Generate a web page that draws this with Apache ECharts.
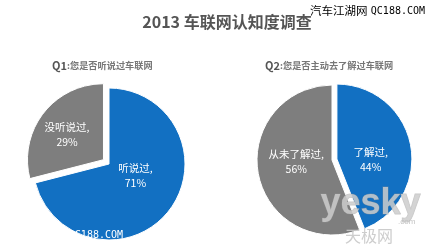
<!DOCTYPE html>
<html>
<head>
<meta charset="utf-8">
<script src="https://cdn.jsdelivr.net/npm/echarts@6/dist/echarts.min.js"></script>
<style>html,body{margin:0;padding:0;background:#fff;}#c{width:434px;height:247px;}</style>
</head>
<body>
<div id="c"></div>
<script>
var q1Names = ['听说过', '没听说过'];
var q1Values = [71, 29];
var q2Names = ['了解过', '从未了解过'];
var q2Values = [44, 56];
var BLUE = '#1270c2', GRAY = '#7e7e7e';

function mk(names, values, colors, explodeIdx) {
  return names.map(function (n, i) {
    return { name: n, value: values[i], selected: i === explodeIdx, itemStyle: { color: colors[i] } };
  });
}

var chart = echarts.init(document.getElementById('c'), null, { renderer: 'canvas' });
var labelCfg = {
  show: true, position: 'inside', color: '#fff', fontSize: 10.5, lineHeight: 15,
  fontFamily: 'Noto Sans CJK SC', formatter: '{b},\n{d}%'
};
chart.setOption({
  animation: false,
  title: [
    { text: '2013 车联网认知度调查', left: 222, top: 9, textAlign: 'center',
      textStyle: { fontSize: 16, fontWeight: 'bold', color: '#555', fontFamily: 'Noto Sans CJK SC' } },
    { text: '{q|Q1}{t|:您是否听说过车联网}', left: 47, top: 55,
      textStyle: { rich: {
        q: { fontSize: 11, fontWeight: 'bold', color: '#555', fontFamily: 'Noto Sans CJK SC' },
        t: { fontSize: 9.2, color: '#777', fontFamily: 'Noto Sans CJK SC' } } } },
    { text: '{q|Q2}{t|:您是否主动去了解过车联网}', left: 260, top: 55,
      textStyle: { rich: {
        q: { fontSize: 11, fontWeight: 'bold', color: '#555', fontFamily: 'Noto Sans CJK SC' },
        t: { fontSize: 9.2, color: '#777', fontFamily: 'Noto Sans CJK SC' } } } }
  ],
  series: [
    { type: 'pie', center: [109, 164], radius: 76, startAngle: 90, clockwise: true,
      selectedMode: 'single', selectedOffset: 7, silent: true,
      itemStyle: { borderColor: '#fff', borderWidth: 1 },
      label: labelCfg, labelLine: { show: false }, emphasis: { scale: false },
      labelLayout: function (p) { return p.dataIndex === 0 ? { dx: -6, dy: -14 } : { dx: -4, dy: 0 }; },
      data: mk(q1Names, q1Values, [BLUE, GRAY], 1) },
    { type: 'pie', center: [332, 160], radius: 75, startAngle: 90, clockwise: true,
      selectedMode: 'single', selectedOffset: 5, silent: true,
      itemStyle: { borderColor: '#fff', borderWidth: 1 },
      label: labelCfg, labelLine: { show: false }, emphasis: { scale: false },
      labelLayout: function (p) { return p.dataIndex === 0 ? { dx: -6, dy: 8 } : { dx: 4, dy: -6 }; },
      data: mk(q2Names, q2Values, [BLUE, GRAY], 0) }
  ],
  graphic: [
    { type: 'text', left: 310, top: 5, z: 100, style: {
      text: '{a|汽车江湖网} {b|QC188.COM}', rich: {
        a: { fontSize: 11.5, fill: '#000', fontFamily: 'Noto Sans CJK SC' },
        b: { fontSize: 10, fill: '#000', fontFamily: 'DejaVu Sans Mono' } } } },
    { type: 'text', left: 8, top: 229, z: 100, style: {
      text: '{a|汽车江湖网} {b|QC188.COM}', rich: {
        a: { fontSize: 11.5, fill: '#fff', fontFamily: 'Noto Sans CJK SC' },
        b: { fontSize: 10, fill: '#fff', fontFamily: 'DejaVu Sans Mono' } } } },
    { type: 'text', left: 320, top: 186, z: 100, style: {
      text: 'yesky', fontSize: 36, fontWeight: 'bold', fontFamily: 'Liberation Sans',
      fill: 'rgba(205,205,205,0.85)', stroke: 'rgba(150,150,150,0.5)', lineWidth: 1 } },
    { type: 'text', left: 398, top: 218, z: 100, style: {
      text: '.com', fontSize: 8, fontFamily: 'Liberation Sans', fill: 'rgba(190,190,190,0.9)' } },
    { type: 'text', left: 345, top: 228, z: 100, style: {
      text: '天极网', fontSize: 16, fontFamily: 'Noto Sans CJK SC', fill: 'rgba(200,200,200,0.9)' } }
  ]
});
</script>
</body>
</html>
